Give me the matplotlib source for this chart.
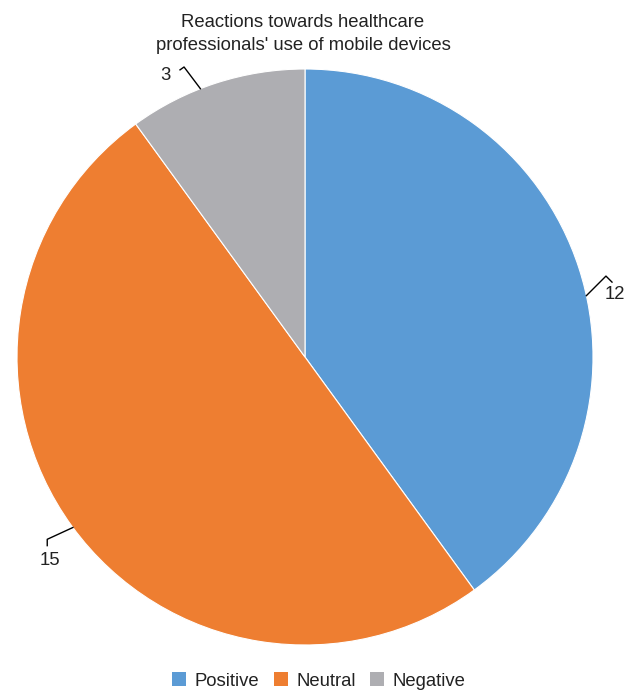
import matplotlib.pyplot as plt
import numpy as np
from matplotlib.patches import Patch

plt.rcParams['font.family'] = ['Liberation Sans', 'DejaVu Sans']

categories = ["Positive", "Neutral", "Negative"]
values = [12, 15, 3]
colors = ["#5B9BD5", "#EE7E31", "#AEAEB2"]

# label placement (data coords): leader start angle, elbow, end, text position
leader_angle = [12.3, 216.3, 111.3]
elbow = [(1.045, 0.281), (-0.895, -0.633), (-0.420, 1.007)]
tip = [(1.066, 0.260), (-0.895, -0.655), (-0.434, 0.997)]
text_pos = [(1.075, 0.217), (-0.885, -0.708), (-0.483, 0.976)]

fig = plt.figure(figsize=(6.32, 6.90), dpi=100)
ax = fig.add_axes([17 / 632, 45 / 690, 576 / 632, 576 / 690])

wedges, _ = ax.pie(values, colors=colors, startangle=90, counterclock=False,
                   radius=1, center=(0, 0),
                   wedgeprops=dict(edgecolor="white", linewidth=0.8))
ax.set_xlim(-1, 1)
ax.set_ylim(-1, 1)
ax.set_aspect("equal")
ax.axis("off")

for i, v in enumerate(values):
    a = np.deg2rad(leader_angle[i])
    x0, y0 = np.cos(a), np.sin(a)
    ax.plot([x0, elbow[i][0], tip[i][0]], [y0, elbow[i][1], tip[i][1]],
            color="black", lw=1, clip_on=False)
    ax.text(text_pos[i][0], text_pos[i][1], str(v), ha="center", va="center",
            fontsize=13.3, color="#222222", clip_on=False)

fig.text(303 / 632, 1 - 34 / 690,
         "Reactions towards healthcare\nprofessionals' use of mobile devices",
         ha="center", va="center", fontsize=13.3, color="#222222", linespacing=1.4)

handles = [Patch(facecolor=c, edgecolor="none") for c in colors]
fig.legend(handles, categories, loc="center", bbox_to_anchor=(319 / 632, 1 - 681 / 690),
           ncol=3, frameon=False, fontsize=13.3, handlelength=0.75, handleheight=0.75,
           handletextpad=0.45, columnspacing=0.8, labelcolor="#222222")

fig.savefig("out.png", dpi=100)
